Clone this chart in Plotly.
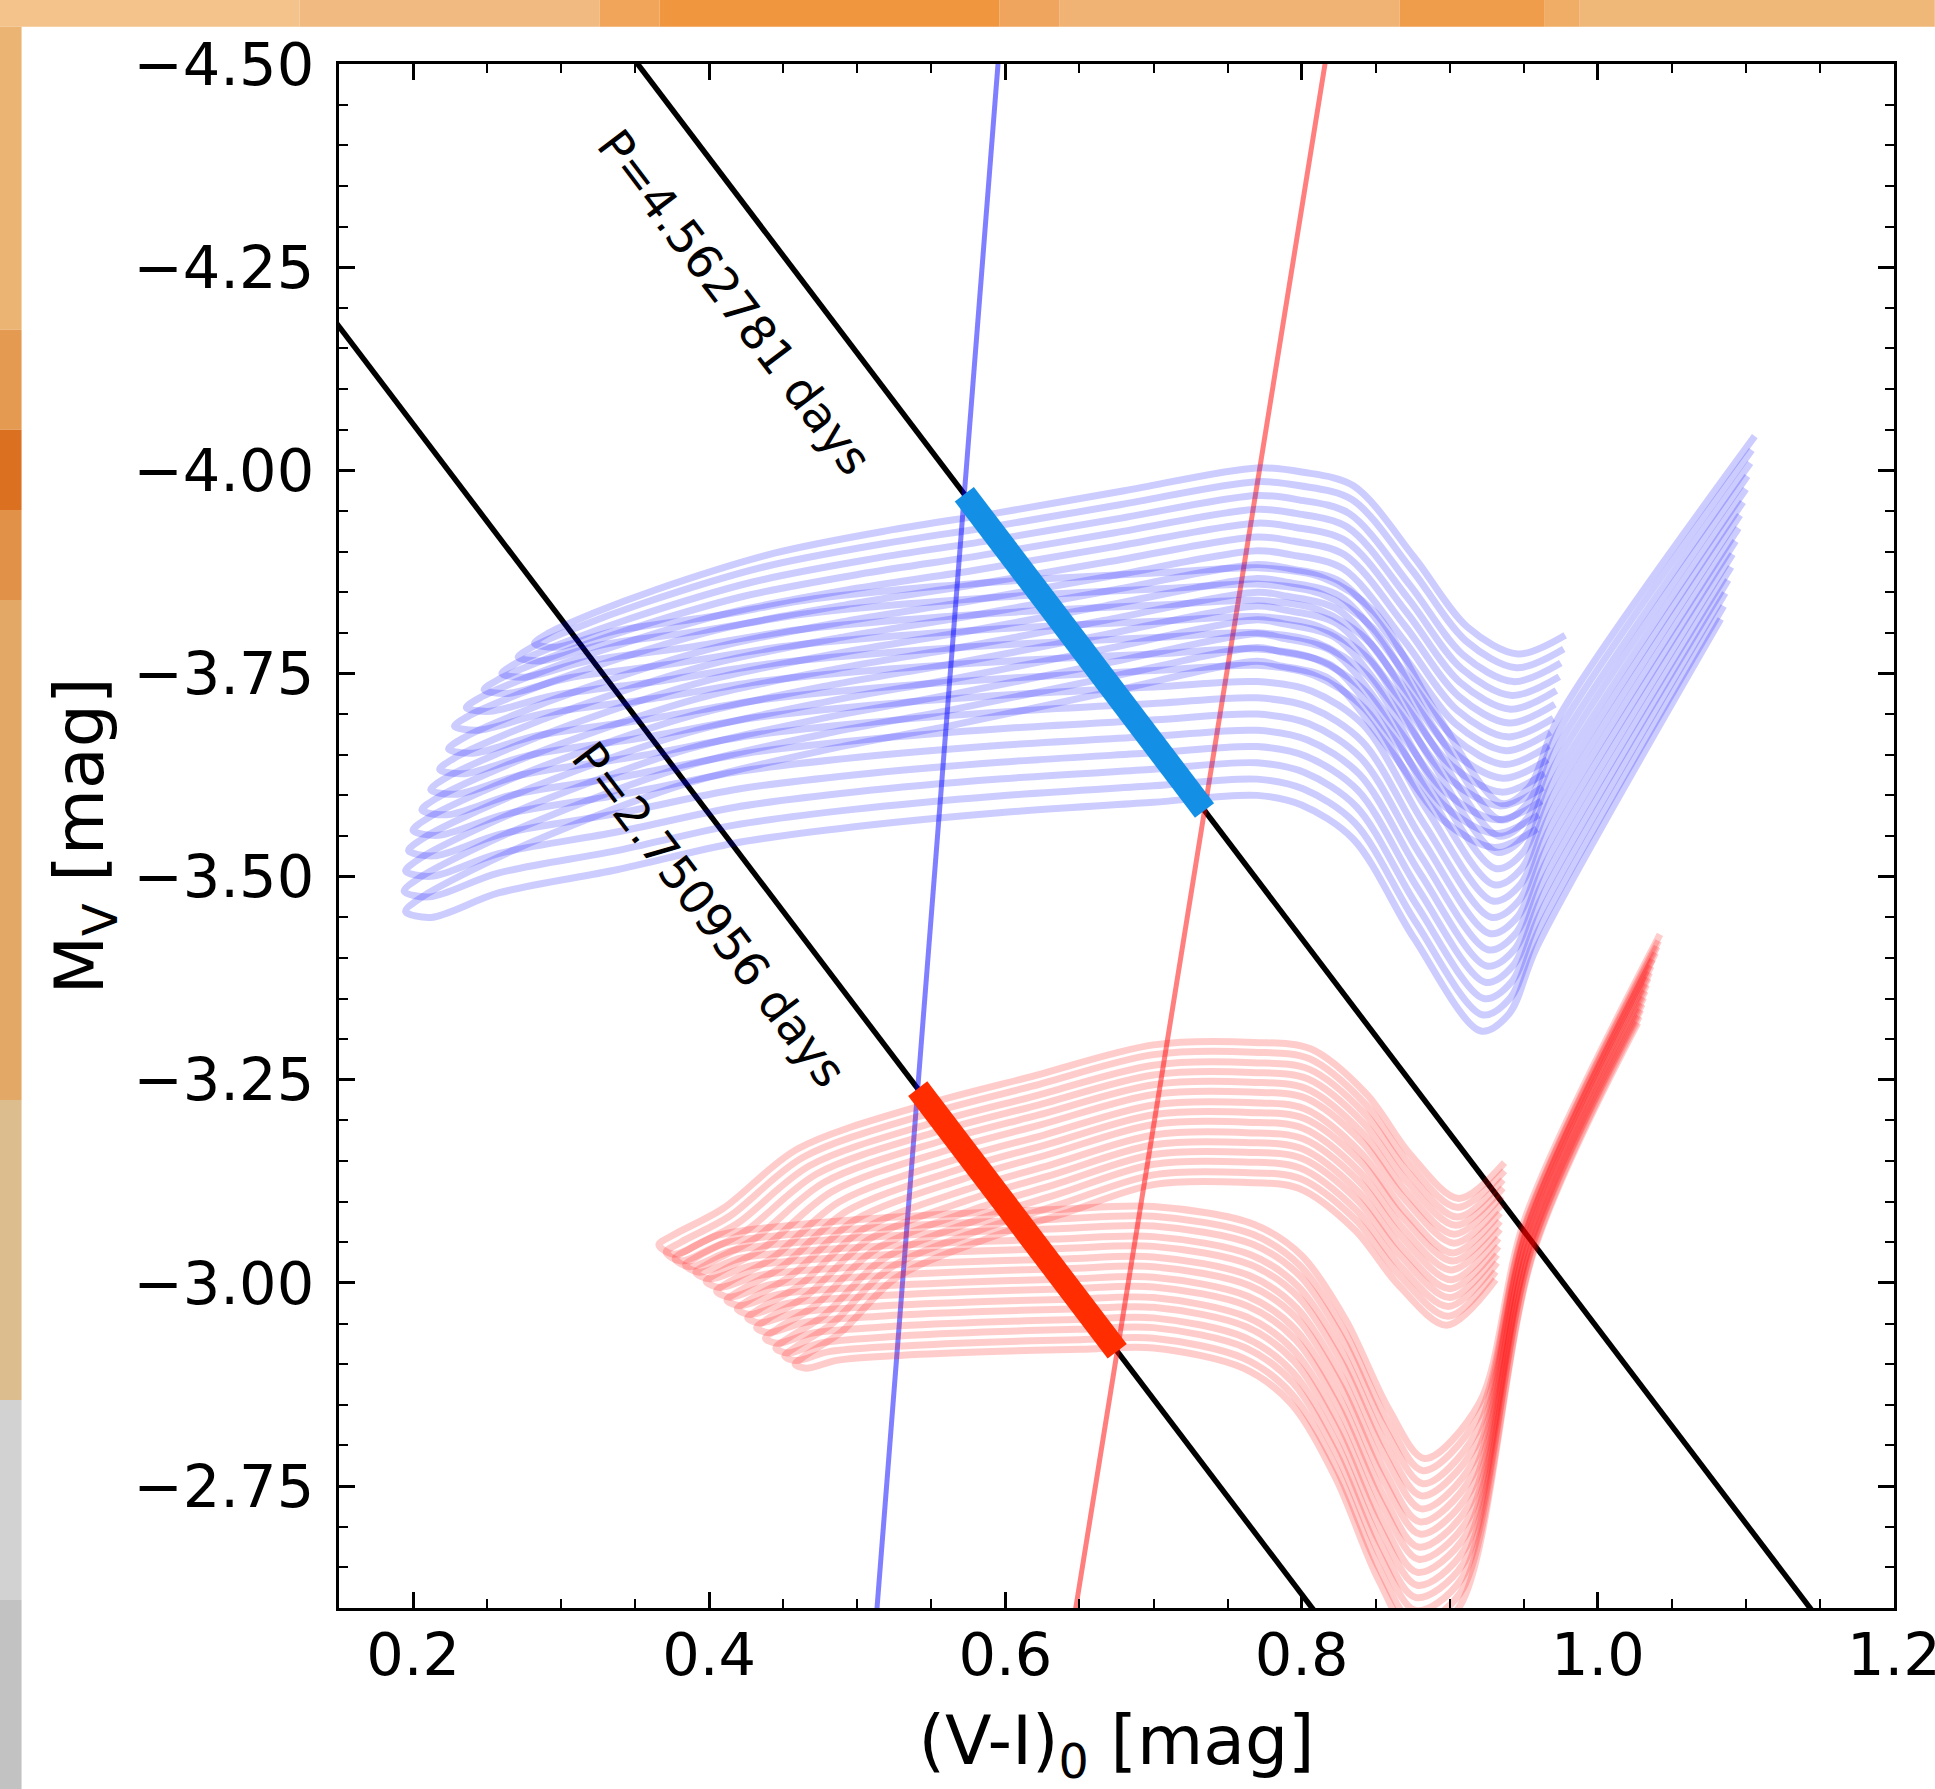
import plotly.graph_objects as go

# ---------------- axes ----------------
X_RANGE = [0.15, 1.20001]
Y_RANGE = [-2.6, -4.5]
X_TICKS = [0.2, 0.4, 0.6, 0.8, 1.0, 1.2]
Y_TICKS = [-4.50, -4.25, -4.00, -3.75, -3.50, -3.25, -3.00, -2.75]
X_TITLE = "(V-I)<sub>0</sub> [mag]"
Y_TITLE = "M<sub>V</sub> [mag]"

# ---------------- constant-period lines: M_V = slope*(V-I)0 + zero ----------------
PERIOD_NAMES = ["P=4.562781 days", "P=2.750956 days"]
PERIOD_SLOPE = [2.40, 2.40]
PERIOD_ZERO = [-5.344, -4.537]
LABEL_X = [0.4175, 0.400]
LABEL_Y = [-4.207, -3.453]
SEGMENT_COLORS = ["#1390e6", "#ff2d00"]

# ---------------- instability-strip edges (two points each) ----------------
BLUE_EDGE_X = [0.5133, 0.5950]
BLUE_EDGE_Y = [-2.60, -4.50]
RED_EDGE_X = [0.6475, 0.8158]
RED_EDGE_Y = [-2.60, -4.50]

# ---------------- blue tracks (brighter family), 0 = faintest ----------------
BLUE_TIP_X = [0.195, 0.194, 0.195, 0.197, 0.200, 0.206, 0.212, 0.218, 0.224, 0.228, 0.236, 0.248, 0.260, 0.271, 0.282]
BLUE_TIP_Y = [-3.457, -3.482, -3.507, -3.532, -3.557, -3.582, -3.607, -3.632, -3.657, -3.685, -3.708, -3.730, -3.750, -3.770, -3.787]
BLUE_KNEE_X = 0.77
BLUE_UP_PLAT = [-3.765, -3.782, -3.799, -3.816, -3.833, -3.850, -3.867, -3.884, -3.901, -3.918, -3.935, -3.952, -3.969, -3.986, -4.003]
BLUE_HOOK_MIN_X = [0.930, 0.931, 0.932, 0.934, 0.935, 0.936, 0.937, 0.938, 0.939, 0.940, 0.941, 0.942, 0.943, 0.945, 0.946]
BLUE_HOOK_MIN_Y = [-3.536, -3.553, -3.570, -3.587, -3.604, -3.621, -3.638, -3.655, -3.672, -3.689, -3.706, -3.723, -3.740, -3.757, -3.774]
BLUE_HOOK_END_X = [0.959, 0.960, 0.962, 0.963, 0.964, 0.966, 0.967, 0.968, 0.970, 0.971, 0.972, 0.974, 0.975, 0.977, 0.978]
BLUE_HOOK_END_Y = [-3.559, -3.576, -3.593, -3.610, -3.627, -3.644, -3.661, -3.678, -3.695, -3.712, -3.729, -3.746, -3.763, -3.780, -3.797]
BLUE_LOW_PLAT = [-3.600, -3.620, -3.640, -3.660, -3.680, -3.700, -3.720, -3.740, -3.760, -3.780, -3.800, -3.820, -3.840, -3.860, -3.880]
BLUE_LOW_MIN_X = [0.921, 0.922, 0.923, 0.924, 0.925, 0.926, 0.927, 0.928, 0.929, 0.930, 0.931, 0.932, 0.933, 0.934, 0.935]
BLUE_LOW_MIN_Y = [-3.310, -3.330, -3.350, -3.370, -3.390, -3.410, -3.430, -3.450, -3.470, -3.490, -3.510, -3.530, -3.550, -3.570, -3.590]
BLUE_RGB_END_X = [1.083, 1.085, 1.086, 1.088, 1.090, 1.091, 1.093, 1.095, 1.096, 1.098, 1.100, 1.101, 1.103, 1.104, 1.106]
BLUE_RGB_END_Y = [-3.817, -3.833, -3.849, -3.865, -3.881, -3.897, -3.913, -3.929, -3.945, -3.961, -3.977, -3.993, -4.009, -4.025, -4.042]
# shape profiles (fraction along x, fraction of rise)
BLUE_UP_T = [0, 0.02, 0.08, 0.168, 0.332, 0.496, 0.643, 0.816, 1.0]
BLUE_UP_F = [0, 0.06, 0.17, 0.306, 0.514, 0.648, 0.745, 0.87, 1.0]
BLUE_LOW_T = [0, 0.03, 0.109, 0.248, 0.387, 0.527, 0.697, 0.878, 1.0]
BLUE_LOW_F = [0, -0.05, 0.16, 0.36, 0.59, 0.73, 0.85, 0.94, 1.0]
BLUE_UP_DESC_DX = [-0.146, -0.111, -0.070, -0.034, 0.0]
BLUE_UP_DESC_F = [0.022, 0.096, 0.48, 0.856, 1.0]
BLUE_LOW_DESC_DX = [-0.121, -0.086, -0.045, 0.0]
BLUE_LOW_DESC_F = [0.041, 0.186, 0.607, 1.0]
BLUE_RGB_DX = [0.019, 0.038]
BLUE_RGB_DY = [-0.021, -0.104]

# ---------------- red tracks (fainter family), 0 = faintest ----------------
RED_TIP_X = [0.458, 0.451, 0.445, 0.438, 0.432, 0.426, 0.419, 0.412, 0.405, 0.398, 0.391, 0.384, 0.377, 0.371, 0.366]
RED_TIP_Y = [-2.900, -2.910, -2.920, -2.932, -2.945, -2.957, -2.968, -2.979, -2.990, -3.002, -3.013, -3.022, -3.030, -3.038, -3.047]
RED_KNEE_X = 0.70
RED_UP_PLAT = [-3.121, -3.133, -3.146, -3.158, -3.170, -3.182, -3.195, -3.207, -3.219, -3.232, -3.244, -3.256, -3.268, -3.281, -3.293]
RED_HOOK_MIN_X = [0.898, 0.899, 0.899, 0.900, 0.900, 0.901, 0.901, 0.902, 0.902, 0.903, 0.903, 0.904, 0.905, 0.905, 0.906]
RED_HOOK_MIN_Y = [-2.948, -2.959, -2.971, -2.982, -2.993, -3.004, -3.016, -3.027, -3.037, -3.049, -3.060, -3.071, -3.081, -3.093, -3.104]
RED_HOOK_END_X = [0.931, 0.931, 0.932, 0.932, 0.933, 0.933, 0.934, 0.934, 0.934, 0.935, 0.935, 0.936, 0.936, 0.937, 0.937]
RED_HOOK_END_Y = [-3.004, -3.014, -3.025, -3.035, -3.045, -3.055, -3.066, -3.076, -3.086, -3.097, -3.107, -3.117, -3.127, -3.138, -3.148]
RED_LOW_PLAT = [-2.920, -2.932, -2.945, -2.957, -2.970, -2.982, -2.995, -3.007, -3.020, -3.032, -3.045, -3.057, -3.070, -3.082, -3.094]
RED_LOW_MIN_X = [0.876, 0.876, 0.877, 0.877, 0.878, 0.878, 0.879, 0.879, 0.880, 0.880, 0.881, 0.881, 0.882, 0.882, 0.883]
RED_LOW_MIN_Y = [-2.566, -2.582, -2.597, -2.613, -2.628, -2.644, -2.660, -2.675, -2.691, -2.706, -2.722, -2.738, -2.753, -2.769, -2.784]
# where each red giant branch joins the common steep band
RED_BAND_X = [0.906, 0.907, 0.908, 0.909, 0.910, 0.911, 0.912, 0.913, 0.914, 0.915, 0.916, 0.917, 0.918, 0.919, 0.920]
RED_BAND_Y = [-2.600, -2.618, -2.636, -2.654, -2.672, -2.690, -2.708, -2.726, -2.744, -2.762, -2.780, -2.798, -2.816, -2.834, -2.852]
RED_KINK_X = [0.957, 0.957, 0.956, 0.956, 0.955, 0.955, 0.955, 0.954, 0.954, 0.953, 0.953, 0.953, 0.952, 0.952, 0.951]
RED_KINK_Y = [-3.040, -3.043, -3.046, -3.049, -3.051, -3.054, -3.057, -3.060, -3.063, -3.066, -3.069, -3.071, -3.074, -3.077, -3.080]
RED_RGB_END_X = [1.027, 1.028, 1.029, 1.030, 1.031, 1.032, 1.033, 1.034, 1.035, 1.036, 1.037, 1.039, 1.040, 1.041, 1.042]
RED_RGB_END_Y = [-3.320, -3.328, -3.336, -3.343, -3.351, -3.359, -3.367, -3.375, -3.382, -3.390, -3.398, -3.406, -3.414, -3.421, -3.429]
RED_UP_T = [0, 0.03, 0.129, 0.281, 0.536, 0.751, 1.0]
RED_UP_F = [0, 0.05, 0.18, 0.48, 0.70, 0.84, 1.0]
RED_LOW_T = [0, 0.03, 0.12, 0.30, 0.55, 0.80, 1.0]
RED_LOW_F = [0, -0.25, 0.25, 0.55, 0.78, 0.92, 1.0]
RED_UP_DESC_DX = [-0.138, -0.100, -0.062, -0.033, 0.0]
RED_UP_DESC_F = [-0.016, 0.026, 0.323, 0.709, 1.0]
RED_LOW_DESC_DX = [-0.115, -0.083, -0.053, -0.024, 0.0]
RED_LOW_DESC_F = [0.071, 0.194, 0.452, 0.806, 1.0]


def profile(x0, y0, x1, y1, T, F):
    return [x0 + t * (x1 - x0) for t in T], [y0 + f * (y1 - y0) for f in F]


def descent(y_plat, mx, my, DX, FR):
    return [mx + d for d in DX], [y_plat + f * (my - y_plat) for f in FR]


fig = go.Figure()

# period lines
for k in range(2):
    xs = [X_RANGE[0] - 0.1, X_RANGE[1] + 0.1]
    fig.add_trace(go.Scatter(x=xs, y=[PERIOD_SLOPE[k] * x + PERIOD_ZERO[k] for x in xs],
                             mode="lines", line=dict(color="black", width=5.5), hoverinfo="skip"))


def edge_x(ex, ey, y):
    return ex[0] + (y - ey[0]) * (ex[1] - ex[0]) / (ey[1] - ey[0])


# instability strip edges
for ex, ey, col in [(BLUE_EDGE_X, BLUE_EDGE_Y, "rgba(0,0,255,0.5)"), (RED_EDGE_X, RED_EDGE_Y, "rgba(255,0,0,0.5)")]:
    ys = [-2.4, -4.7]
    fig.add_trace(go.Scatter(x=[edge_x(ex, ey, y) for y in ys], y=ys, mode="lines",
                             line=dict(color=col, width=5), hoverinfo="skip"))


def add_tracks(n, tipx, tipy, knee, upplat, upT, upF, hminx, hminy, hendx, hendy, updx, upf,
               lowplat, lowT, lowF, lminx, lminy, lowdx, lowf, post_x, post_y, endx, endy, color):
    for i in range(n):
        ux, uy = profile(tipx[i], tipy[i], knee, upplat[i], upT, upF)
        dx, dy = descent(upplat[i], hminx[i], hminy[i], updx, upf)
        ux += dx + [hendx[i]]
        uy += dy + [hendy[i]]
        lx, ly = profile(tipx[i], tipy[i], knee, lowplat[i], lowT, lowF)
        dx, dy = descent(lowplat[i], lminx[i], lminy[i], lowdx, lowf)
        lx += dx + post_x[i] + [endx[i]]
        ly += dy + post_y[i] + [endy[i]]
        xs = ux[::-1] + lx[1:]
        ys = uy[::-1] + ly[1:]
        fig.add_trace(go.Scatter(x=xs, y=ys, mode="lines",
                                 line=dict(color=color, width=7, shape="spline", smoothing=0.9),
                                 hoverinfo="skip"))


NB = len(BLUE_TIP_X)
add_tracks(NB, BLUE_TIP_X, BLUE_TIP_Y, BLUE_KNEE_X, BLUE_UP_PLAT, BLUE_UP_T, BLUE_UP_F,
           BLUE_HOOK_MIN_X, BLUE_HOOK_MIN_Y, BLUE_HOOK_END_X, BLUE_HOOK_END_Y, BLUE_UP_DESC_DX, BLUE_UP_DESC_F,
           BLUE_LOW_PLAT, BLUE_LOW_T, BLUE_LOW_F, BLUE_LOW_MIN_X, BLUE_LOW_MIN_Y, BLUE_LOW_DESC_DX, BLUE_LOW_DESC_F,
           [[BLUE_LOW_MIN_X[i] + d for d in BLUE_RGB_DX] for i in range(NB)],
           [[BLUE_LOW_MIN_Y[i] + d for d in BLUE_RGB_DY] for i in range(NB)],
           BLUE_RGB_END_X, BLUE_RGB_END_Y, "rgba(0,0,255,0.2)")

NR = len(RED_TIP_X)
add_tracks(NR, RED_TIP_X, RED_TIP_Y, RED_KNEE_X, RED_UP_PLAT, RED_UP_T, RED_UP_F,
           RED_HOOK_MIN_X, RED_HOOK_MIN_Y, RED_HOOK_END_X, RED_HOOK_END_Y, RED_UP_DESC_DX, RED_UP_DESC_F,
           RED_LOW_PLAT, RED_LOW_T, RED_LOW_F, RED_LOW_MIN_X, RED_LOW_MIN_Y, RED_LOW_DESC_DX, RED_LOW_DESC_F,
           [[RED_BAND_X[i], RED_KINK_X[i]] for i in range(NR)],
           [[RED_BAND_Y[i], RED_KINK_Y[i]] for i in range(NR)],
           RED_RGB_END_X, RED_RGB_END_Y, "rgba(255,0,0,0.2)")


# thick segments: part of each period line inside the strip
def cross(slope, zero, ex, ey):
    g = (ex[1] - ex[0]) / (ey[1] - ey[0])
    x = (ex[0] + (zero - ey[0]) * g) / (1 - slope * g)
    return x, slope * x + zero


for k in range(2):
    xb, yb = cross(PERIOD_SLOPE[k], PERIOD_ZERO[k], BLUE_EDGE_X, BLUE_EDGE_Y)
    xr, yr = cross(PERIOD_SLOPE[k], PERIOD_ZERO[k], RED_EDGE_X, RED_EDGE_Y)
    fig.add_trace(go.Scatter(x=[xb, xr], y=[yb, yr], mode="lines",
                             line=dict(color=SEGMENT_COLORS[k], width=24), hoverinfo="skip"))

for k in range(2):
    fig.add_annotation(x=LABEL_X[k], y=LABEL_Y[k], text=PERIOD_NAMES[k], showarrow=False,
                       textangle=52.8, font=dict(size=47, color="black", family="DejaVu Sans"),
                       xanchor="center", yanchor="middle")

# background frame (photo-like border)
L, W, T, H = 339.4, 1554.8, 64.2, 1543.7


def px(xp):
    return (xp - L) / W


def py(yp):
    return (T + H - yp) / H


# y-axis title placed as rotated text beside the tick labels
fig.add_annotation(xref="paper", yref="paper", x=px(84), y=0.5, text=Y_TITLE, showarrow=False,
                   textangle=-90, font=dict(size=68, color="black", family="DejaVu Sans"),
                   xanchor="center", yanchor="middle")

frame = [
    (0, 300, 0, 27, "#f4c38b"), (300, 600, 0, 27, "#f0ba80"), (600, 660, 0, 27, "#f0a55a"),
    (660, 1000, 0, 27, "#f0963e"), (1000, 1060, 0, 27, "#f0a55e"), (1060, 1400, 0, 27, "#f0b374"),
    (1400, 1545, 0, 27, "#ef9c4b"), (1545, 1580, 0, 27, "#efad66"), (1580, 1935, 0, 27, "#efb778"),
    (0, 22, 27, 330, "#ecb473"), (0, 22, 330, 430, "#e49a50"), (0, 22, 430, 510, "#da7020"),
    (0, 22, 510, 600, "#e29248"), (0, 22, 600, 1100, "#e4a866"), (0, 22, 1100, 1400, "#dcbd8e"),
    (0, 22, 1400, 1600, "#d2d2d2"), (0, 22, 1600, 1789, "#c2c2c2"),
]
shapes = []
for x0, x1, y0, y1, c in frame:
    shapes.append(dict(type="rect", xref="paper", yref="paper", x0=px(x0), x1=px(x1), y0=py(y1), y1=py(y0),
                       fillcolor=c, line=dict(width=0), layer="above"))

axis_common = dict(showline=True, linecolor="black", linewidth=3, mirror="ticks", ticks="inside",
                   ticklen=16, tickwidth=2.5, tickcolor="black", showgrid=False, zeroline=False,
                   tickfont=dict(size=59, family="DejaVu Sans", color="black"))

fig.update_layout(
    width=1935, height=1789,
    margin=dict(l=339, r=41, t=64, b=181),
    paper_bgcolor="white", plot_bgcolor="white",
    showlegend=False,
    font=dict(family="DejaVu Sans", color="black"),
    shapes=shapes,
    xaxis=dict(range=X_RANGE, tickvals=X_TICKS, tickformat=".1f", ticklabeloverflow="allow",
               minor=dict(dtick=0.05, tick0=0.2, ticks="inside", ticklen=9, tickwidth=2, tickcolor="black"),
               title=dict(text=X_TITLE, font=dict(size=68, family="DejaVu Sans"), standoff=32),
               ticklabelstandoff=-7, automargin=False, **axis_common),
    yaxis=dict(range=Y_RANGE, tickvals=Y_TICKS, tickformat=".2f",
               minor=dict(dtick=0.05, tick0=-4.5, ticks="inside", ticklen=9, tickwidth=2, tickcolor="black"),
               ticklabelstandoff=10, automargin=False, **axis_common),
)

fig.write_html("out.html")
